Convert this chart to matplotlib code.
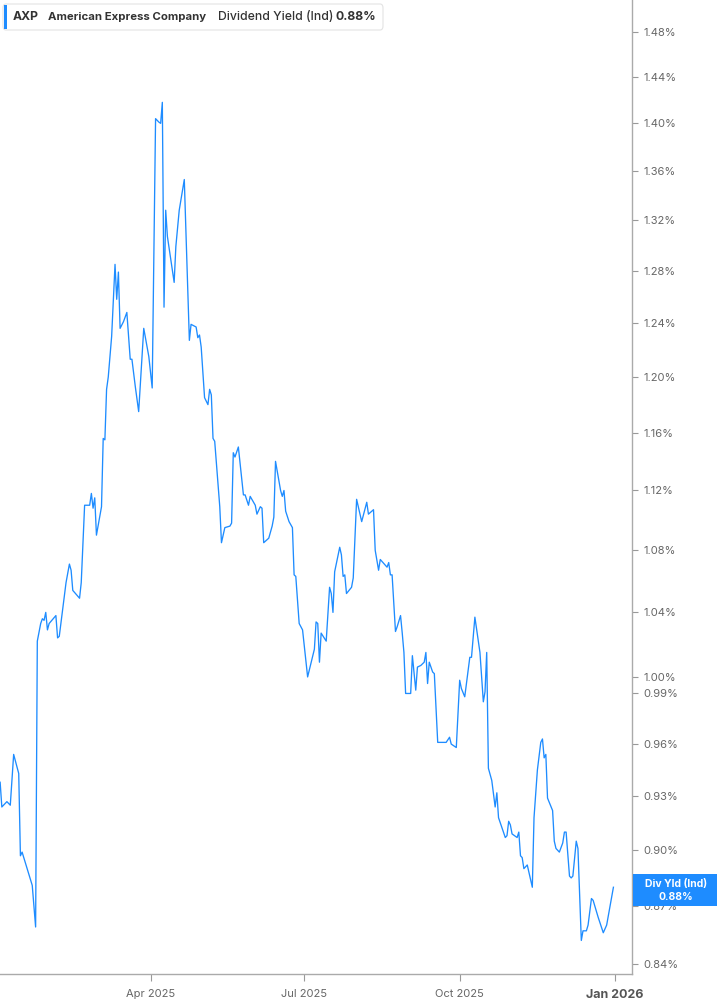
import matplotlib
matplotlib.use('Agg')
import matplotlib.pyplot as plt
from matplotlib.patches import FancyBboxPatch, Rectangle
from matplotlib.ticker import FixedLocator, FuncFormatter, NullLocator
from matplotlib.transforms import IdentityTransform
import pandas as pd

# AXP indicated dividend yield (%)
dates = [
    '2025-01-02', '2025-01-03', '2025-01-06', '2025-01-08', '2025-01-10', '2025-01-13',
    '2025-01-14', '2025-01-15', '2025-01-21', '2025-01-23', '2025-01-24', '2025-01-26',
    '2025-01-27', '2025-01-28', '2025-01-29', '2025-01-30', '2025-01-31',
    '2025-02-04', '2025-02-05', '2025-02-06', '2025-02-08', '2025-02-10', '2025-02-12',
    '2025-02-13', '2025-02-14', '2025-02-18', '2025-02-19', '2025-02-21', '2025-02-24',
    '2025-02-25', '2025-02-26', '2025-02-27', '2025-02-28',
    '2025-03-03', '2025-03-04', '2025-03-05', '2025-03-06', '2025-03-07', '2025-03-09',
    '2025-03-11', '2025-03-12', '2025-03-13', '2025-03-14', '2025-03-16', '2025-03-18',
    '2025-03-20', '2025-03-21', '2025-03-23', '2025-03-25', '2025-03-28', '2025-03-31',
    '2025-04-02', '2025-04-04', '2025-04-06', '2025-04-07', '2025-04-08', '2025-04-09',
    '2025-04-10', '2025-04-11', '2025-04-15', '2025-04-16', '2025-04-18', '2025-04-21',
    '2025-04-24', '2025-04-25', '2025-04-28', '2025-04-29', '2025-04-30',
    '2025-05-01', '2025-05-03', '2025-05-05', '2025-05-06', '2025-05-07', '2025-05-08',
    '2025-05-09', '2025-05-12', '2025-05-13', '2025-05-15', '2025-05-18', '2025-05-19',
    '2025-05-20', '2025-05-21', '2025-05-23', '2025-05-26', '2025-05-27', '2025-05-29',
    '2025-05-30',
    '2025-06-02', '2025-06-03', '2025-06-05', '2025-06-06', '2025-06-07', '2025-06-10',
    '2025-06-11', '2025-06-12', '2025-06-13', '2025-06-14', '2025-06-17', '2025-06-18',
    '2025-06-19', '2025-06-20', '2025-06-22', '2025-06-24', '2025-06-25', '2025-06-26',
    '2025-06-28', '2025-06-30',
    '2025-07-03', '2025-07-07', '2025-07-08', '2025-07-09', '2025-07-10', '2025-07-11',
    '2025-07-14', '2025-07-16', '2025-07-17', '2025-07-18', '2025-07-19', '2025-07-22',
    '2025-07-23', '2025-07-24', '2025-07-25', '2025-07-26', '2025-07-29', '2025-07-30',
    '2025-07-31',
    '2025-08-01', '2025-08-04', '2025-08-07', '2025-08-08', '2025-08-11', '2025-08-12',
    '2025-08-14', '2025-08-15', '2025-08-19', '2025-08-20', '2025-08-21', '2025-08-22',
    '2025-08-24', '2025-08-25', '2025-08-27', '2025-08-28', '2025-08-29', '2025-08-30',
    '2025-09-02', '2025-09-03', '2025-09-05', '2025-09-06', '2025-09-08', '2025-09-10',
    '2025-09-11', '2025-09-12', '2025-09-13', '2025-09-15', '2025-09-16', '2025-09-18',
    '2025-09-19', '2025-09-23', '2025-09-25', '2025-09-26', '2025-09-29',
    '2025-10-01', '2025-10-02', '2025-10-04', '2025-10-07', '2025-10-08', '2025-10-10',
    '2025-10-13', '2025-10-15', '2025-10-16', '2025-10-17', '2025-10-18', '2025-10-20',
    '2025-10-22', '2025-10-23', '2025-10-24', '2025-10-28', '2025-10-29', '2025-10-30',
    '2025-10-31',
    '2025-11-01', '2025-11-04', '2025-11-05', '2025-11-06', '2025-11-07', '2025-11-08',
    '2025-11-10', '2025-11-13', '2025-11-14', '2025-11-16', '2025-11-18', '2025-11-19',
    '2025-11-20', '2025-11-21', '2025-11-22', '2025-11-25', '2025-11-26', '2025-11-27',
    '2025-11-29',
    '2025-12-01', '2025-12-02', '2025-12-03', '2025-12-05', '2025-12-06', '2025-12-07',
    '2025-12-09', '2025-12-10', '2025-12-12', '2025-12-13', '2025-12-15', '2025-12-16',
    '2025-12-18', '2025-12-19', '2025-12-22', '2025-12-25', '2025-12-27', '2025-12-31',
]
div_yield = [
    0.938, 0.924, 0.927, 0.925, 0.954, 0.943,
    0.897, 0.899, 0.881, 0.859, 1.022, 1.033,
    1.036, 1.035, 1.040, 1.029, 1.033,
    1.038, 1.024, 1.025, 1.042, 1.059, 1.071,
    1.067, 1.054, 1.049, 1.059, 1.110, 1.110,
    1.118, 1.108, 1.115, 1.090,
    1.109, 1.156, 1.155, 1.191, 1.200, 1.230,
    1.285, 1.258, 1.279, 1.236, 1.241, 1.248,
    1.213, 1.213, 1.193, 1.175, 1.236, 1.215,
    1.192, 1.404, 1.401, 1.400, 1.418, 1.252,
    1.328, 1.307, 1.271, 1.299, 1.328, 1.353,
    1.227, 1.239, 1.237, 1.229, 1.231,
    1.222, 1.185, 1.180, 1.191, 1.187, 1.156,
    1.154, 1.109, 1.085, 1.095, 1.096, 1.098,
    1.146, 1.143, 1.150, 1.117, 1.117, 1.110,
    1.116,
    1.110, 1.104, 1.109, 1.108, 1.085, 1.088,
    1.092, 1.096, 1.102, 1.140, 1.120, 1.116,
    1.120, 1.106, 1.099, 1.095, 1.064, 1.063,
    1.033, 1.029,
    1.000, 1.017, 1.034, 1.033, 1.009, 1.027,
    1.022, 1.056, 1.052, 1.040, 1.066, 1.082,
    1.077, 1.063, 1.064, 1.052, 1.056, 1.062,
    1.087,
    1.114, 1.099, 1.112, 1.104, 1.107, 1.080,
    1.067, 1.074, 1.069, 1.072, 1.064, 1.064,
    1.028, 1.031, 1.038, 1.027, 1.015, 0.990,
    0.990, 1.013, 0.992, 1.006, 1.007, 1.009,
    1.015, 0.996, 1.009, 1.003, 1.002, 0.961,
    0.961, 0.961, 0.964, 0.960, 0.958,
    0.998, 0.993, 0.988, 1.012, 1.012, 1.037,
    1.015, 0.985, 0.991, 1.015, 0.946, 0.939,
    0.924, 0.932, 0.918, 0.907, 0.908, 0.916,
    0.914,
    0.909, 0.907, 0.910, 0.897, 0.896, 0.890,
    0.892, 0.880, 0.918, 0.945, 0.961, 0.963,
    0.952, 0.954, 0.929, 0.922, 0.905, 0.901,
    0.899,
    0.904, 0.910, 0.910, 0.886, 0.885, 0.886,
    0.905, 0.901, 0.852, 0.857, 0.857, 0.860,
    0.874, 0.873, 0.864, 0.856, 0.860, 0.880,
]
y_ticks = [0.84, 0.87, 0.90, 0.93, 0.96, 0.99, 1.00, 1.04, 1.08, 1.12,
           1.16, 1.20, 1.24, 1.28, 1.32, 1.36, 1.40, 1.44, 1.48]
x_ticks = ['2025-04-01', '2025-07-01', '2025-10-01', '2026-01-01']
x_labels = ['Apr 2025', 'Jul 2025', 'Oct 2025', 'Jan 2026']
last_value = div_yield[-1]

LINE = '#1e8cff'
TXT = '#333333'
GREY = '#666666'
FONT = 'Inter'

W, H = 717, 1005
fig = plt.figure(figsize=(W / 100, H / 100), dpi=100)
ax = fig.add_axes([0, 31 / H, 632 / W, 974 / H])

ax.plot(pd.to_datetime(dates), div_yield, color=LINE, lw=0.95)

ax.set_yscale('log')
ax.set_ylim(0.8348, 1.509)
ax.set_xlim(pd.Timestamp('2025-01-01 22:00'), pd.Timestamp('2026-01-11'))

ax.yaxis.tick_right()
ax.yaxis.set_major_locator(FixedLocator(y_ticks))
ax.yaxis.set_minor_locator(NullLocator())
ax.yaxis.set_major_formatter(FuncFormatter(lambda v, p: f'{v:.2f}%'))
ax.set_xticks(pd.to_datetime(x_ticks))
ax.set_xticklabels(x_labels)

ax.tick_params(axis='y', direction='out', length=4, width=0.8, color='#999999',
               labelcolor=GREY, labelsize=8, pad=4)
ax.tick_params(axis='x', direction='out', length=5, width=0.8, color='#999999',
               labelcolor=GREY, labelsize=8, pad=6)
for lab in ax.get_xticklabels() + ax.get_yticklabels():
    lab.set_fontfamily(FONT)
jan = ax.get_xticklabels()[-1]
jan.set_fontweight('bold')
jan.set_color('#555555')
jan.set_fontsize(9)

for side in ['top', 'left']:
    ax.spines[side].set_visible(False)
for side in ['right', 'bottom']:
    ax.spines[side].set_color('#aaaaaa')
    ax.spines[side].set_linewidth(1.0)


def fx(px):
    return px / W


def fy(py):
    return 1 - py / H


# header legend box
fig.add_artist(FancyBboxPatch((fx(3), fy(30)), fx(380), 26 / H,
                              boxstyle='round,pad=0,rounding_size=0.004',
                              transform=fig.transFigure, facecolor='white',
                              edgecolor='#e3e3e3', linewidth=0.8))
fig.add_artist(Rectangle((fx(4), fy(29)), fx(3), 24 / H, transform=fig.transFigure,
                         facecolor=LINE, edgecolor='none'))
head = [('AXP', 13, 'bold', 8.8), ('American Express Company', 48, 'bold', 8.2),
        ('Dividend Yield (Ind)', 218, 'medium', 8.8), (f'{last_value:.2f}%', 335, 'bold', 8.8)]
for txt, xp, wt, fs in head:
    fig.text(fx(xp), fy(17), txt, fontsize=fs, fontweight=wt, color=TXT,
             fontfamily=FONT, ha='left', va='center')

# last value badge on the right axis
yd = ax.transData.transform((ax.get_xlim()[1], last_value))[1] - 3
fig.add_artist(Rectangle((633, yd - 16), W - 633, 32, transform=IdentityTransform(),
                         facecolor=LINE, edgecolor='none'))
fig.text(fx(676), (yd + 6) / H, 'Div Yld (Ind)', fontsize=7.5, fontweight='bold',
         color='white', fontfamily=FONT, ha='center', va='center')
fig.text(fx(676), (yd - 7) / H, f'{last_value:.2f}%', fontsize=7.5, fontweight='bold',
         color='white', fontfamily=FONT, ha='center', va='center')

fig.savefig('out.png', dpi=100)
